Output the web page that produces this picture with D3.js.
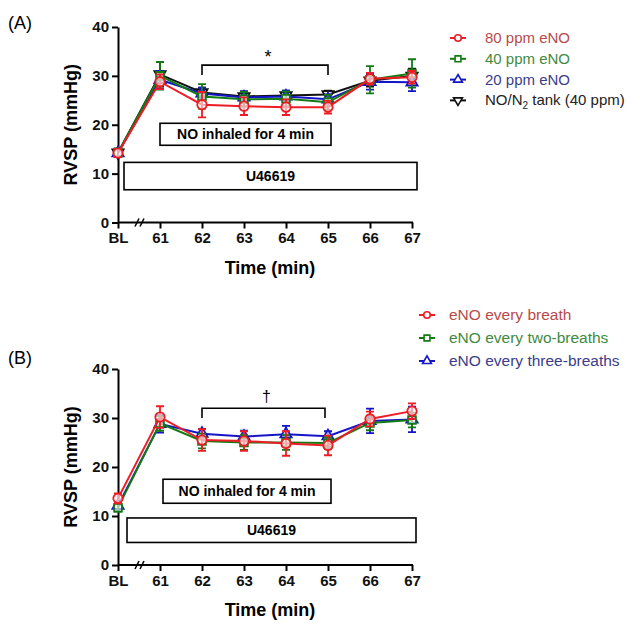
<!DOCTYPE html>
<html><head><meta charset="utf-8">
<script src="https://cdn.jsdelivr.net/npm/d3@7"></script>
<style>body{margin:0;background:#fff}svg{display:block}</style>
</head><body>
<svg id="c" width="640" height="632"></svg>
<script>
const categories = ["BL","61","62","63","64","65","66","67"];
const yTicks = [0,10,20,30,40];

// Panel A
const seriesA = ["80 ppm eNO","40 ppm eNO","20 ppm eNO","NO/N2 tank (40 ppm)"];
const a80 = [14.2, 28.8, 24.1, 23.8, 23.6, 23.6, 29.4, 29.7];
const a40 = [14.3, 30.0, 25.8, 25.2, 25.3, 24.6, 29.2, 30.5];
const a20 = [14.2, 29.2, 26.4, 25.6, 25.8, 25.2, 28.8, 28.7];
const aTank = [14.3, 30.3, 26.6, 25.8, 26.0, 26.2, 29.0, 30.0];
const a80Err = [0.8, 1.5, 2.6, 1.8, 1.6, 1.3, 1.2, 1.3];
const a40Err = [0.8, 2.8, 2.5, 1.5, 1.5, 1.5, 2.8, 2.9];
const a20Err = [0.8, 1.8, 1.2, 1.2, 1.2, 1.0, 1.6, 1.8];
const aTankErr = [0.8, 2.5, 1.0, 1.0, 1.0, 0.8, 1.2, 1.5];

// Panel B
const seriesB = ["eNO every breath","eNO every two-breaths","eNO every three-breaths"];
const b1 = [13.6, 30.2, 25.5, 25.3, 24.8, 24.4, 29.8, 31.4];
const b2 = [11.7, 28.9, 25.3, 25.0, 25.0, 24.9, 29.0, 29.6];
const b3 = [12.1, 28.8, 26.8, 26.2, 26.7, 26.3, 29.4, 29.7];
const b1Err = [1.0, 2.2, 2.2, 2.0, 2.5, 2.0, 1.5, 1.6];
const b2Err = [0.8, 1.5, 1.5, 1.5, 1.5, 1.2, 1.5, 1.5];
const b3Err = [0.8, 1.8, 1.0, 1.2, 1.7, 1.0, 2.5, 2.6];

const RED="#ee1c24", GREEN="#137a13", BLUE="#1515c8", BLACK="#111";
const FONT="'Liberation Sans', Arial, sans-serif";
const svg = d3.select("#c");

function symType(m){ return m==="circle"?d3.symbolCircle:m==="square"?d3.symbolSquare:d3.symbolTriangle; }
const symSize = {circle:70, square:60, triUp:55, triDown:55};

function panel(opts){
  const g = svg.append("g");
  const x = d3.scalePoint().domain(categories).range([118, 412]);
  const y = d3.scaleLinear().domain([0,40]).range([opts.y0, opts.y40]);

  // axes
  const yAx = g.append("g").attr("transform","translate(118,0)")
    .call(d3.axisLeft(y).tickValues(yTicks).tickSize(6).tickSizeOuter(0).tickPadding(3));
  const xAx = g.append("g").attr("transform",`translate(0,${opts.y0})`)
    .call(d3.axisBottom(x).tickSize(6).tickSizeOuter(0).tickPadding(4));
  [yAx,xAx].forEach(a=>{
    a.select(".domain").attr("stroke","#000").attr("stroke-width",2);
    a.selectAll(".tick line").attr("stroke","#000").attr("stroke-width",2);
    a.selectAll("text").attr("font-family",FONT).attr("font-weight","bold").attr("font-size",15).attr("fill","#111");
  });
  xAx.select(".domain").attr("d",`M118,0H413`);
  // axis break
  [135,140].forEach(bx=>{
    g.append("line").attr("x1",bx).attr("y1",opts.y0+4).attr("x2",bx+4).attr("y2",opts.y0-4)
      .attr("stroke","#000").attr("stroke-width",1.5);
  });

  // axis titles
  g.append("text").attr("x",270).attr("y",opts.y0+51).attr("text-anchor","middle")
    .attr("font-family",FONT).attr("font-weight","bold").attr("font-size",18).text("Time (min)");
  g.append("text").attr("transform",`translate(77,${(opts.y0+opts.y40)/2}) rotate(-90)`)
    .attr("text-anchor","middle").attr("font-family",FONT).attr("font-weight","bold").attr("font-size",18)
    .text("RVSP (mmHg)");
  g.append("text").attr("x",8).attr("y",opts.labelY).attr("font-family",FONT).attr("font-size",18).text(opts.label);

  // boxes
  opts.boxes.forEach(b=>{
    g.append("rect").attr("x",b.x1).attr("y",y(b.top)).attr("width",b.x2-b.x1).attr("height",y(b.bot)-y(b.top))
      .attr("fill","#fff").attr("stroke","#000").attr("stroke-width",1.6);
    g.append("text").attr("x",(b.x1+b.x2)/2).attr("y",(y(b.top)+y(b.bot))/2+5).attr("text-anchor","middle")
      .attr("font-family",FONT).attr("font-weight","bold").attr("font-size",14).text(b.text);
  });

  // bracket
  const bx1 = x("62"), bx2 = x("65")-opts.brShift;
  g.append("path").attr("d",`M${bx1},${y(opts.brLow)}V${y(opts.brTop)}H${bx2}V${y(opts.brLow)}`)
    .attr("fill","none").attr("stroke","#000").attr("stroke-width",1.6);
  g.append("text").attr("x",(bx1+bx2)/2+3).attr("y",y(opts.brTop)-opts.symDy).attr("text-anchor","middle")
    .attr("font-family",FONT).attr("font-size",opts.symSize).text(opts.sym);

  // series (drawn in reverse so first series is on top)
  opts.series.slice().reverse().forEach(s=>{
    const pts = s.v.map((v,i)=>({c:categories[i],v,e:s.e[i]}));
    const sg = g.append("g");
    sg.append("path").datum(pts).attr("fill","none").attr("stroke",s.color).attr("stroke-width",2)
      .attr("d",d3.line().x(d=>x(d.c)).y(d=>y(d.v)));
    sg.selectAll(".eb").data(pts).join("path")
      .attr("fill","none").attr("stroke",s.color).attr("stroke-width",1.8)
      .attr("d",d=>{const cx=x(d.c),t=y(d.v+d.e),b=y(d.v-d.e);return `M${cx},${t}V${b}M${cx-4},${t}H${cx+4}M${cx-4},${b}H${cx+4}`;});
    sg.selectAll(".mk").data(pts).join("path")
      .attr("transform",d=>`translate(${x(d.c)},${y(d.v)})${s.m==="triDown"?" rotate(180)":""}`)
      .attr("d",d3.symbol().type(symType(s.m)).size(symSize[s.m])()).attr("fill","#fff").attr("fill-opacity",0.6)
      .attr("stroke",s.color).attr("stroke-width",1.8);
  });

  // legend
  opts.series.forEach((s,i)=>{
    const ly = opts.legY + i*opts.legDy;
    const lg = g.append("g");
    lg.append("line").attr("x1",opts.legX-8).attr("x2",opts.legX+8).attr("y1",ly).attr("y2",ly)
      .attr("stroke",s.color).attr("stroke-width",2);
    lg.append("path").attr("transform",`translate(${opts.legX},${ly})${s.m==="triDown"?" rotate(180)":""}`)
      .attr("d",d3.symbol().type(symType(s.m)).size(34)())
      .attr("fill","#fff").attr("stroke",s.color).attr("stroke-width",1.6);
    const t = lg.append("text").attr("x",opts.legX+opts.legTextDx).attr("y",ly+5).attr("font-family",FONT)
      .attr("font-size",opts.legFont).attr("fill",s.tc);
    if(s.name.includes("N2")){
      t.append("tspan").text("NO/N");
      t.append("tspan").attr("font-size",10).attr("dy",4).text("2");
      t.append("tspan").attr("dy",-4).text(" tank (40 ppm)");
    } else t.text(s.name);
  });
}

panel({
  label:"(A)", labelY:29, y0:222.5, y40:27,
  boxes:[{x1:160,x2:331,top:20.3,bot:15.8,text:"NO inhaled for 4 min"},
         {x1:124,x2:417,top:12.3,bot:6.7,text:"U46619"}],
  brTop:32.2, brLow:30.2, brShift:0, sym:"*", symSize:18, symDy:2,
  legX:458, legY:38, legDy:20.8, legTextDx:27, legFont:15,
  series:[
    {name:seriesA[0],v:a80,e:a80Err,color:RED,tc:"#b84a4a",m:"circle"},
    {name:seriesA[1],v:a40,e:a40Err,color:GREEN,tc:"#3f8a3f",m:"square"},
    {name:seriesA[2],v:a20,e:a20Err,color:BLUE,tc:"#3c3c8c",m:"triUp"},
    {name:seriesA[3],v:aTank,e:aTankErr,color:BLACK,tc:"#222",m:"triDown"},
  ]
});

panel({
  label:"(B)", labelY:364, y0:565, y40:369,
  boxes:[{x1:163,x2:331,top:17.5,bot:12.6,text:"NO inhaled for 4 min"},
         {x1:127,x2:416,top:9.6,bot:4.6,text:"U46619"}],
  brTop:32.0, brLow:30.0, brShift:3, sym:"†", symSize:16, symDy:6,
  legX:427, legY:315, legDy:23, legTextDx:22, legFont:15.5,
  series:[
    {name:seriesB[0],v:b1,e:b1Err,color:RED,tc:"#b84a4a",m:"circle"},
    {name:seriesB[1],v:b2,e:b2Err,color:GREEN,tc:"#3f8a3f",m:"square"},
    {name:seriesB[2],v:b3,e:b3Err,color:BLUE,tc:"#3c3c8c",m:"triUp"},
  ]
});
</script>
</body></html>
